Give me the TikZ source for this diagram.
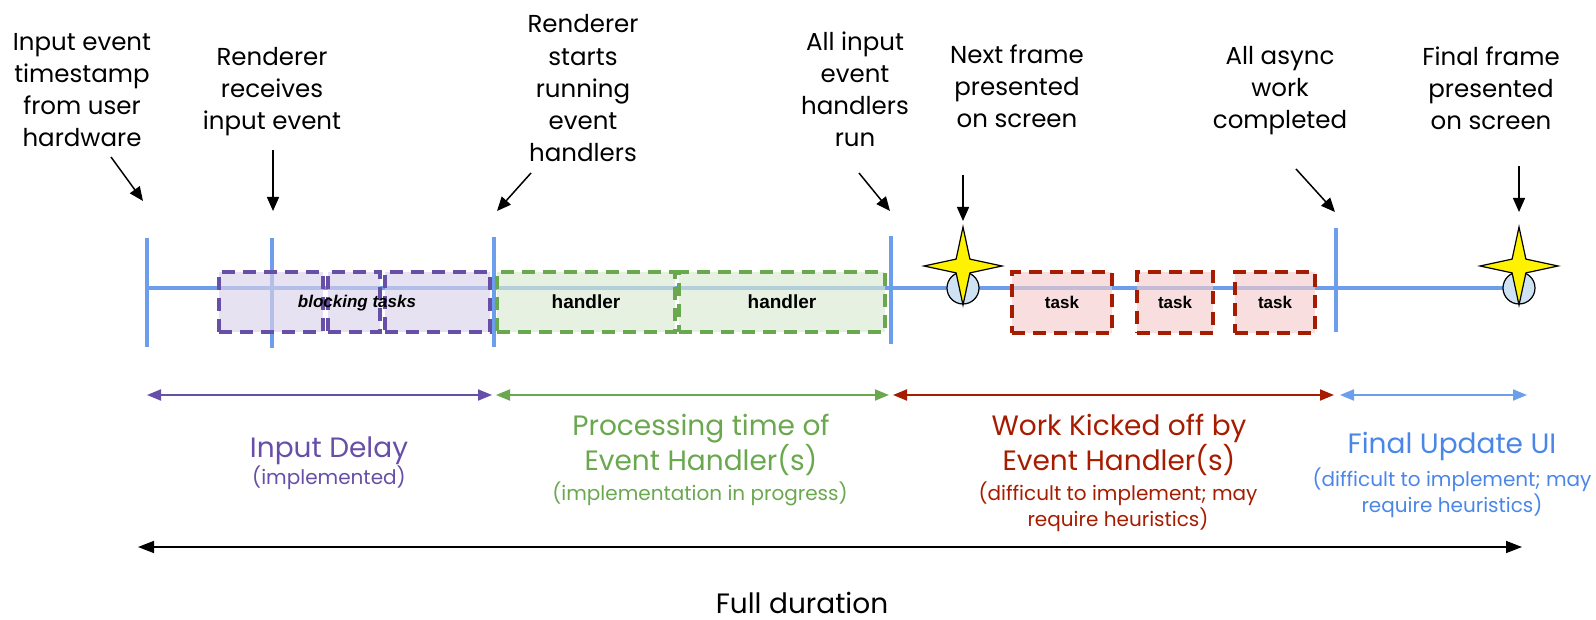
\documentclass[tikz,border=0pt]{standalone}
\usepackage{fontspec}
\setmainfont{Poppins}
\newfontfamily\boxfont{Liberation Sans}
\usetikzlibrary{positioning,shapes.geometric,arrows.meta}

\definecolor{tlblue}{HTML}{6D9EEB}
\definecolor{uiblue}{HTML}{4A86E8}
\definecolor{dpurple}{HTML}{674EA7}
\definecolor{dgreen}{HTML}{6AA84F}
\definecolor{dred}{HTML}{A61C00}
\definecolor{pfill}{HTML}{D9D2E9}
\definecolor{gfill}{HTML}{D9EAD3}
\definecolor{rfill}{HTML}{F4CCCC}
\definecolor{cfill}{HTML}{CFE2F3}

\tikzset{
  timeline/.style={draw=tlblue, line width=3.5pt},
  tickline/.style={draw=tlblue, line width=3.5pt},
  workbox/.style={draw, line width=4.5pt, dash pattern=on 13pt off 8pt,
    fill opacity=0.65, text opacity=1, minimum height=60pt, inner sep=0pt,
    font=\boxfont\bfseries\fontsize{17}{20}\selectfont},
  blockbox/.style={workbox, draw=dpurple, fill=pfill},
  handlerbox/.style={workbox, draw=dgreen, fill=gfill, font=\boxfont\bfseries\fontsize{19}{22}\selectfont},
  taskbox/.style={workbox, draw=dred, fill=rfill, minimum height=61pt},
  framedot/.style={circle, draw, fill=cfill, line width=1.2pt, minimum size=32pt, inner sep=0pt},
  flash/.style={star, star points=4, star point ratio=4, draw, fill=yellow,
    line width=1.2pt, minimum size=78pt, inner sep=0pt},
  callout/.style={line width=1.5pt, -{Triangle[length=14pt,width=12pt]}},
  phasespan/.style={line width=2pt, {Triangle[length=14pt,width=11pt]}-{Triangle[length=14pt,width=11pt]}},
  % anchor=base is the baseline of the last line
  toplabel/.style={align=center, inner sep=0pt, anchor=base, font=\fontsize{24.5}{32.3}\selectfont},
  phase/.style={align=center, inner sep=0pt, anchor=base, font=\fontsize{28}{35}\selectfont},
  phasenote/.style={align=center, inner sep=0pt, anchor=base, font=\fontsize{20}{26}\selectfont},
}

\begin{document}
\begin{tikzpicture}[x=1pt,y=-1pt]
    \useasboundingbox (0,0) rectangle (1596,620);

    % time line and its marks
    \draw[timeline] (147,288) -- (1519,288);
    \draw[tickline] (147,238) -- (147,347);
    \draw[tickline] (272,238) -- (272,348);
    \draw[tickline] (494,237) -- (494,347);
    \draw[tickline] (891,236) -- (891,344);
    \draw[tickline] (1336,228) -- (1336,332);

    % tasks on the main thread
    \node[blockbox, minimum width=104pt] (blk1) at (271,302) {};
    \node[blockbox, minimum width=52pt] (blk2) at (354,302) {};
    \node[blockbox, minimum width=105pt] (blk3) at (437.5,302) {};
    \node[font=\boxfont\bfseries\itshape\fontsize{17}{20}\selectfont] (blkText) at (357,303) {blocking tasks};
    \node[handlerbox, minimum width=178pt] (hnd1) at (586,302) {handler};
    \node[handlerbox, minimum width=206pt] (hnd2) at (782,302) {handler};
    \node[taskbox, minimum width=100pt] (tsk1) at (1062,302.5) {task};
    \node[taskbox, minimum width=76pt] (tsk2) at (1175,302.5) {task};
    \node[taskbox, minimum width=80pt] (tsk3) at (1275,302.5) {task};

    % presented frames
    \node[framedot] (frm1) at (963,288) {};
    \node[flash] (star1) at (963,266) {};
    \node[framedot] (frm2) at (1519,288) {};
    \node[flash] (star2) at (1519,266) {};

    % labels above
    \node[toplabel] (lblA) at (82,147) {Input event\\timestamp\\from user\\hardware};
    \node[toplabel] (lblB) at (272,130) {Renderer\\receives\\input event};
    \node[toplabel] (lblC) at (583,162) {Renderer\\starts\\running\\event\\handlers};
    \node[toplabel] (lblD) at (855,147) {All input\\event\\handlers\\run};
    \node[toplabel] (lblE) at (1017,128) {Next frame\\presented\\on screen};
    \node[toplabel] (lblF) at (1280,129) {All async\\work\\completed};
    \node[toplabel] (lblG) at (1491,130) {Final frame\\presented\\on screen};

    \coordinate (fromA) at (111,157);  \coordinate (toA) at (143,201);
    \coordinate (fromB) at (273,150);  \coordinate (toB) at (273,211);
    \coordinate (fromC) at (531,173);  \coordinate (toC) at (497,211);
    \coordinate (fromD) at (859,173);  \coordinate (toD) at (890,211);
    \coordinate (fromE) at (963,175);  \coordinate (toE) at (963,221);
    \coordinate (fromF) at (1296,169); \coordinate (toF) at (1335,212);
    \coordinate (fromG) at (1519,166); \coordinate (toG) at (1519,212);
    \draw[callout] (fromA) -- (toA);
    \draw[callout] (fromB) -- (toB);
    \draw[callout] (fromC) -- (toC);
    \draw[callout] (fromD) -- (toD);
    \draw[callout] (fromE) -- (toE);
    \draw[callout] (fromF) -- (toF);
    \draw[callout] (fromG) -- (toG);

    % phases
    \coordinate (spanA) at (147,395);
    \coordinate (spanC) at (494,395);
    \coordinate (spanD) at (891,395);
    \coordinate (spanF) at (1336,395);
    \coordinate (spanG) at (1527,395);
    \draw[phasespan, dpurple] (spanA) -- ([xshift=-2pt]spanC);
    \draw[phasespan, dgreen] ([xshift=2pt]spanC) -- ([xshift=-2pt]spanD);
    \draw[phasespan, dred] ([xshift=2pt]spanD) -- ([xshift=-2pt]spanF);
    \draw[phasespan, tlblue] ([xshift=4pt]spanF) -- (spanG);

    \node[phase, dpurple] (delay) at (329,457) {Input Delay};
    \node[phasenote, dpurple] (delayNote) at (329,484) {(implemented)};
    \node[phase, dgreen] (proc) at (701,470) {Processing time of\\Event Handler(s)};
    \node[phasenote, dgreen] (procNote) at (700,500) {(implementation in progress)};
    \node[phase, dred] (work) at (1119,470) {Work Kicked off by\\Event Handler(s)};
    \node[phasenote, dred] (workNote) at (1118,526) {(difficult to implement; may\\require heuristics)};
    \node[phase, uiblue] (finalUI) at (1452,453) {Final Update UI};
    \node[phasenote, uiblue] (finalNote) at (1452,512) {(difficult to implement; may\\require heuristics)};

    % whole span
    \coordinate (fullL) at (138,547);
    \coordinate (fullR) at (1522,547);
    \draw[line width=1.5pt, {Triangle[length=16pt,width=12pt]}-{Triangle[length=16pt,width=12pt]}] (fullL) -- (fullR);
    \node[phase] (full) at (802,613) {Full duration};
\end{tikzpicture}
\end{document}
